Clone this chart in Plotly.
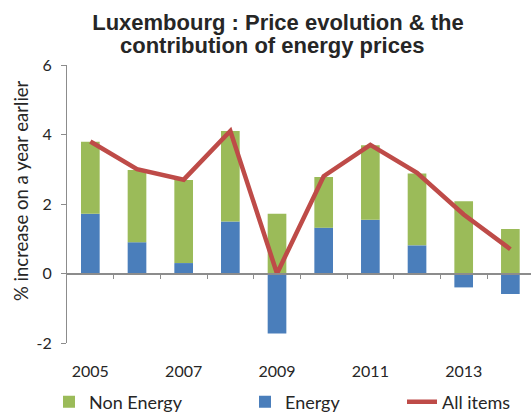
import plotly.graph_objects as go

years = [2005, 2006, 2007, 2008, 2009, 2010, 2011, 2012, 2013, 2014]
energy = [1.72, 0.90, 0.30, 1.50, -1.73, 1.32, 1.55, 0.81, -0.40, -0.59]
non_energy = [2.07, 2.08, 2.39, 2.60, 1.72, 1.46, 2.14, 2.07, 2.08, 1.28]
all_items = [3.8, 3.0, 2.7, 4.1, 0.0, 2.8, 3.7, 2.9, 1.7, 0.7]
tick_years = [2005, 2007, 2009, 2011, 2013]
tick_labels = ["2005", "2007", "2009", "2011", "2013"]
y_ticks = [-2, 0, 2, 4, 6]
y_tick_labels = ["-2", "0", "2", "4", "6"]
boundaries = [y + 0.5 for y in years]
title_line1 = "Luxembourg : Price evolution & the"
title_line2 = "contribution of energy prices"

GREEN = "#9BBB59"
BLUE = "#4A7EBB"
RED = "#BE4B48"
AXIS = "#8C8C8C"
FONT = "Lato"
TFONT = dict(family="Liberation Sans", size=22, color="#262626", weight="bold")

W, H = 531, 412
ML, MR, MT, MB = 67, 0, 65, 69
PW, PH = W - ML - MR, H - MT - MB
XR = [2004.5, 2004.5 + PW / 46.67]
YR = [-2, 6]


def py(ypx):
    return (MT + PH - ypx) / PH


def px(xpx):
    return (xpx - ML) / PW


fig = go.Figure()
fig.add_trace(go.Bar(x=years, y=energy, name="Energy", marker=dict(color=BLUE, line=dict(width=0)),
                     legend="legend2"))
fig.add_trace(go.Bar(x=years, y=non_energy, name="Non Energy", marker=dict(color=GREEN, line=dict(width=0)),
                     legend="legend"))
fig.add_trace(go.Scatter(x=years, y=all_items, name="All items", mode="lines",
                         line=dict(color=RED, width=4.5), xaxis="x2", legend="legend3"))


def lg(xpx):
    return dict(x=xpx / W, y=1 - 402 / H, xref="container", yref="container", xanchor="left",
                yanchor="middle", orientation="h", bgcolor="rgba(0,0,0,0)",
                font=dict(family=FONT, size=18, color="#262626"))


fig.update_layout(
    width=W, height=H,
    margin=dict(l=ML, r=MR, t=MT, b=MB, autoexpand=False),
    plot_bgcolor="white", paper_bgcolor="white",
    barmode="relative", bargap=0.6,
    font=dict(family=FONT, size=16, color="#262626"),
    title=dict(text=title_line1, x=278 / W, xanchor="center", xref="container",
               y=1 - 22 / H, yanchor="middle", yref="container", font=TFONT),
    xaxis=dict(range=XR, tickvals=tick_years, ticktext=tick_labels, ticks="", showline=False,
               showgrid=False, zeroline=False, ticklabelstandoff=17,
               tickfont=dict(family=FONT, size=16, color="#262626")),
    xaxis2=dict(range=XR, overlaying="x", anchor="free", position=(0 - YR[0]) / (YR[1] - YR[0]),
                showticklabels=False, tickvals=boundaries, ticks="outside", ticklen=5, tickcolor=AXIS,
                showline=True, linecolor=AXIS, linewidth=1.5, showgrid=False, zeroline=False),
    yaxis=dict(range=YR, tickvals=y_ticks, ticktext=y_tick_labels, ticks="outside", ticklen=5,
               tickcolor=AXIS, showline=True, ticklabelstandoff=6,
               linecolor=AXIS, linewidth=1.2, showgrid=False, zeroline=False,
               tickfont=dict(family=FONT, size=16, color="#262626")),
    legend=lg(49),
    legend2=lg(245),
    legend3=lg(402),
    showlegend=True,
    annotations=[
        dict(text=title_line2, xref="paper", yref="paper", x=px(272), y=py(46),
             xanchor="center", yanchor="middle", showarrow=False, font=TFONT),
        dict(text="% increase on a year earlier", textangle=-90, xref="paper", yref="paper",
             x=px(21), y=py(191), xanchor="center", yanchor="middle",
             showarrow=False, font=dict(family=FONT, size=18.5, color="#262626")),
    ],
)

fig.write_html("out.html", post_script="document.body.style.margin='0px';",
               config={"displayModeBar": False})
